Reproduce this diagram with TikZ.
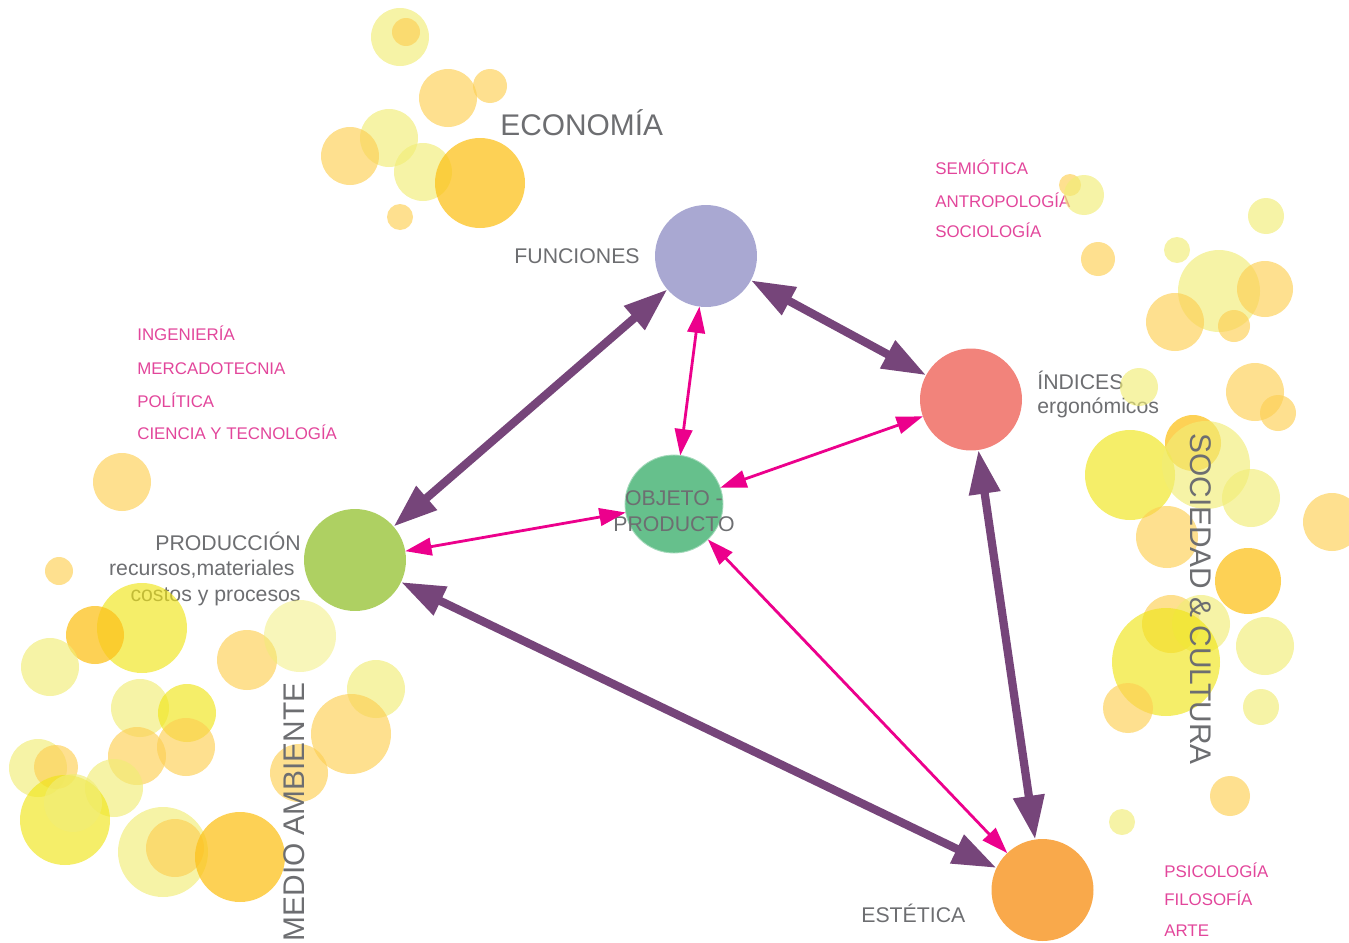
\documentclass[tikz,border=0pt]{standalone}
\usepackage{fontspec}
\setmainfont{Liberation Sans}
\usetikzlibrary{arrows.meta}

\definecolor{txtgray}{HTML}{6D6E71}
\definecolor{fieldpink}{HTML}{E2469B}
\definecolor{linkpink}{HTML}{EC008C}
\definecolor{linkpurple}{HTML}{76457A}
\definecolor{funcblue}{HTML}{A9A8D2}
\definecolor{indred}{HTML}{F2837B}
\definecolor{objgreen}{HTML}{66C08C}
\definecolor{prodgreen}{HTML}{AED062}
\definecolor{estorange}{HTML}{F9A94B}
\definecolor{bpale}{HTML}{F1ED76}
\definecolor{borange}{HTML}{FDCF53}
\definecolor{byellow}{HTML}{F0E518}
\definecolor{bgold}{HTML}{FDC21C}

\newcommand\bigtxt{\fontsize{17}{20}\selectfont}
\newcommand\midtxt{\fontsize{12.1}{14.5}\selectfont}
\newcommand\fieldtxt{\fontsize{9.6}{11.5}\selectfont}

\begin{document}
\begin{tikzpicture}[x=0.02cm,y=0.02cm,yscale=-1,
    hub/.style={circle,inner sep=0pt,outer sep=0pt,minimum size=2.04cm},
    hubtag/.style={txtgray,font=\midtxt,inner sep=0pt},
    fieldtag/.style={fieldpink,font=\fieldtxt,inner sep=0pt,anchor=base west},
    areatag/.style={txtgray,font=\bigtxt,inner sep=0pt},
    strong/.style={linkpurple,line width=4.7pt,
        {Triangle[length=25pt,width=17pt]}-{Triangle[length=25pt,width=17pt]}},
    weak/.style={linkpink,line width=1.6pt,
        {Triangle[length=15pt,width=10pt]}-{Triangle[length=15pt,width=10pt]}},
    pb/.style={fill=bpale,fill opacity=0.65},
    ob/.style={fill=borange,fill opacity=0.65},
    yb/.style={fill=byellow,fill opacity=0.65},
    gb/.style={fill=bgold,fill opacity=0.75}]
    \useasboundingbox (0,0) rectangle (1349,943);

    % fields of knowledge
    \node[fieldtag] (ing) at (137,340) {INGENIERÍA};
    \node[fieldtag] (merc) at (137,374) {MERCADOTECNIA};
    \node[fieldtag] (pol) at (137,407) {POLÍTICA};
    \node[fieldtag] (cyt) at (137,439) {CIENCIA Y TECNOLOGÍA};
    \node[fieldtag] (semi) at (935,174) {SEMIÓTICA};
    \node[fieldtag] (antro) at (935,207) {ANTROPOLOGÍA};
    \node[fieldtag] (socio) at (935,237) {SOCIOLOGÍA};
    \node[fieldtag] (psico) at (1164,877) {PSICOLOGÍA};
    \node[fieldtag] (filo) at (1164,905) {FILOSOFÍA};
    \node[fieldtag] (arte) at (1164,936) {ARTE};

    % labels beside the hubs
    \node[hubtag,anchor=base east] (lfunc) at (640,263) {FUNCIONES};
    \node[hubtag,anchor=base west] (lind) at (1037,389) {ÍNDICES};
    \node[hubtag,anchor=base west] (lerg) at (1037,413) {ergonómicos};
    \node[hubtag,anchor=base east] (lprod) at (301,550) {PRODUCCIÓN};
    \node[hubtag,anchor=base east] (lrec) at (295,575) {recursos,materiales};
    \node[hubtag,anchor=base east] (lcos) at (301,601) {costos y procesos};
    \node[hubtag,anchor=base west] (lest) at (861,922) {ESTÉTICA};

    % bubbles: economia
    \fill[pb] (400,37) circle (29);
    \fill[ob] (406,32) circle (14);
    \fill[ob] (448,98) circle (29);
    \fill[ob] (490,86) circle (17);
    \fill[pb] (389,138) circle (29);
    \fill[ob] (350,156) circle (29);
    \fill[pb] (423,172) circle (29);
    \fill[gb] (480,183) circle (45);
    \fill[ob] (400,217) circle (13);
    % bubbles: medio ambiente
    \fill[ob] (122,482) circle (29);
    \fill[ob] (59,571) circle (14);
    \fill[yb] (142,628) circle (45);
    \fill[gb] (95,635) circle (29);
    \fill[pb] (50,667) circle (29);
    \fill[ob] (247,660) circle (30);
    \fill[pb,fill opacity=0.5] (300,636) circle (36);
    \fill[pb] (140,708) circle (29);
    \fill[yb] (187,713) circle (29);
    \fill[ob] (137,756) circle (29);
    \fill[ob] (186,747) circle (29);
    \fill[pb] (376,689) circle (29);
    \fill[ob] (351,734) circle (40);
    \fill[ob] (299,773) circle (29);
    \fill[pb] (38,768) circle (29);
    \fill[ob] (56,767) circle (22);
    \fill[pb] (114,788) circle (29);
    \fill[yb] (65,820) circle (45);
    \fill[pb] (73,803) circle (29);
    \fill[pb] (163,852) circle (45);
    \fill[ob] (175,848) circle (29);
    \fill[gb] (240,857) circle (45);
    % bubbles: sociedad y cultura
    \fill[ob] (1070,185) circle (11);
    \fill[pb] (1084,195) circle (20);
    \fill[pb] (1266,216) circle (18);
    \fill[pb] (1177,250) circle (13);
    \fill[ob] (1098,259) circle (17);
    \fill[pb] (1219,291) circle (41);
    \fill[ob] (1265,289) circle (28);
    \fill[ob] (1175,322) circle (29);
    \fill[ob] (1234,326) circle (16);
    \fill[pb] (1139,387) circle (19);
    \fill[ob] (1255,392) circle (29);
    \fill[ob] (1278,413) circle (18);
    \fill[gb] (1193,443) circle (28);
    \fill[yb] (1130,475) circle (45);
    \fill[pb] (1206,465) circle (44);
    \fill[pb] (1251,498) circle (29);
    \fill[ob] (1167,537) circle (31);
    \fill[ob] (1332,522) circle (29);
    \fill[gb] (1248,581) circle (33);
    \fill[ob] (1171,624) circle (29);
    \fill[pb] (1201,624) circle (29);
    \fill[pb] (1265,646) circle (29);
    \fill[yb] (1166,662) circle (54);
    \fill[ob] (1128,708) circle (25);
    \fill[pb] (1261,707) circle (18);
    \fill[ob] (1230,796) circle (20);
    \fill[pb] (1122,822) circle (13);

    % areas
    \node[areatag,anchor=base west] (econ) at (500,135) {ECONOMÍA};
    \node[areatag,anchor=base east,rotate=90] (medio) at (304,682) {MEDIO AMBIENTE};
    \node[areatag,anchor=base west,rotate=-90] (soc) at (1190,433) {SOCIEDAD \& CULTURA};

    % hubs
    \node[hub,fill=funcblue] (func) at (706,256) {};
    \node[hub,fill=indred] (ind) at (971,399.5) {};
    \node[hub,fill=prodgreen] (prod) at (355,560) {};
    \node[hub,fill=estorange] (est) at (1042.5,890) {};
    \node[hub,fill=objgreen,draw=objgreen!60!white,line width=0.5pt,minimum size=1.96cm] (obj) at (674,504) {};
    \node[hubtag,align=center] (lobj) at (674,511) {OBJETO -\\PRODUCTO};

    % links
    \draw[strong] (func) -- (prod);
    \draw[strong] (func) -- (ind);
    \draw[strong] (ind) -- (est);
    \draw[strong] (prod) -- (est);
    \draw[weak] (func) -- (obj);
    \draw[weak] (ind) -- (obj);
    \draw[weak] (prod) -- (obj);
    \draw[weak] (est) -- (obj);
\end{tikzpicture}
\end{document}
